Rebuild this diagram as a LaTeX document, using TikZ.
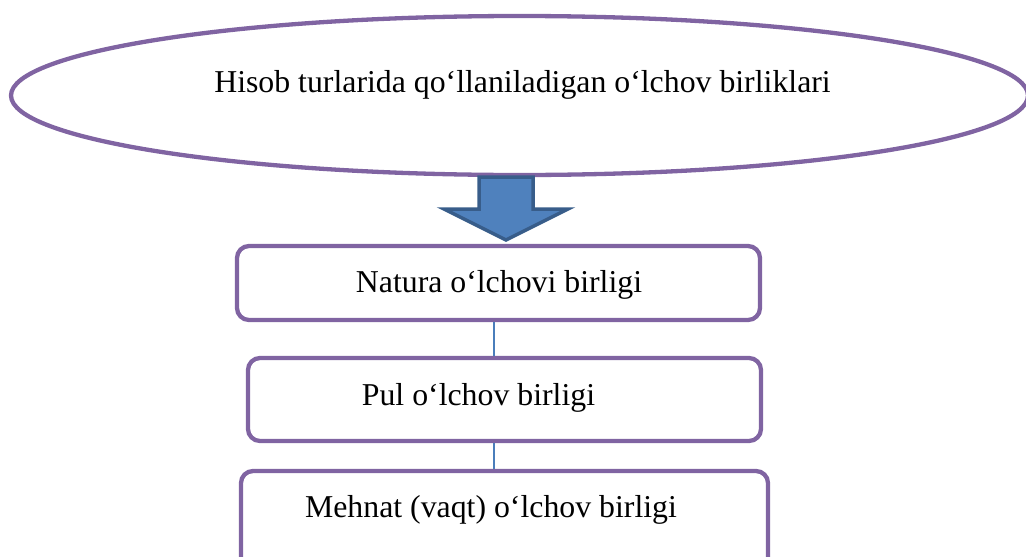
\documentclass[tikz,border=0pt]{standalone}
\usepackage{fontspec}
\setmainfont{Liberation Serif}
\usetikzlibrary{shapes.geometric}
\definecolor{boxpurple}{HTML}{8064A2}
\definecolor{arrowfill}{HTML}{4F81BD}
\definecolor{arrowline}{HTML}{385D8A}
\definecolor{linkblue}{HTML}{4A7EBB}
\begin{document}
\begin{tikzpicture}[x=1pt,y=-1pt,
  unitbox/.style={draw=boxpurple, line width=4.3pt, rounded corners=12pt, inner sep=0pt},
  titleshape/.style={ellipse, draw=boxpurple, line width=4.3pt, inner sep=0pt},
  labeltext/.style={font=\fontsize{31.8}{36}\selectfont, anchor=base, inner sep=0pt},
  link/.style={draw=linkblue, line width=1.3pt},
  blockarrow/.style={draw=arrowline, fill=arrowfill, line width=3.5pt, line join=miter}]
\useasboundingbox (0,0) rectangle (1026,557);
% title ellipse
\node[titleshape, minimum width=1017pt, minimum height=159pt] (title) at (519.5,95.5) {};
\node[labeltext] (titletext) at (522.5,92) {Hisob turlarida qo‘llaniladigan o‘lchov birliklari};
% block arrow
\draw[blockarrow] (479,177) -- (533,177) -- (533,209) -- (568,209) -- (506,240) -- (444,209) -- (479,209) -- cycle;
% boxes
\node[unitbox, minimum width=523pt, minimum height=74pt] (box1) at (498.5,283) {};
\node[unitbox, minimum width=513pt, minimum height=83pt] (box2) at (504.5,399.5) {};
\node[unitbox, minimum width=527pt, minimum height=120pt] (box3) at (504.5,531) {};
\node[labeltext] (t1) at (499,292) {Natura o‘lchovi birligi};
\node[labeltext] (t2) at (478.5,405) {Pul o‘lchov birligi};
\node[labeltext] (t3) at (491,517) {Mehnat (vaqt) o‘lchov birligi};
% connectors
\coordinate (lx) at (494,0);
\draw[link] (box1.south -| lx) -- (box2.north -| lx);
\draw[link] (box2.south -| lx) -- (box3.north -| lx);
\end{tikzpicture}
\end{document}
